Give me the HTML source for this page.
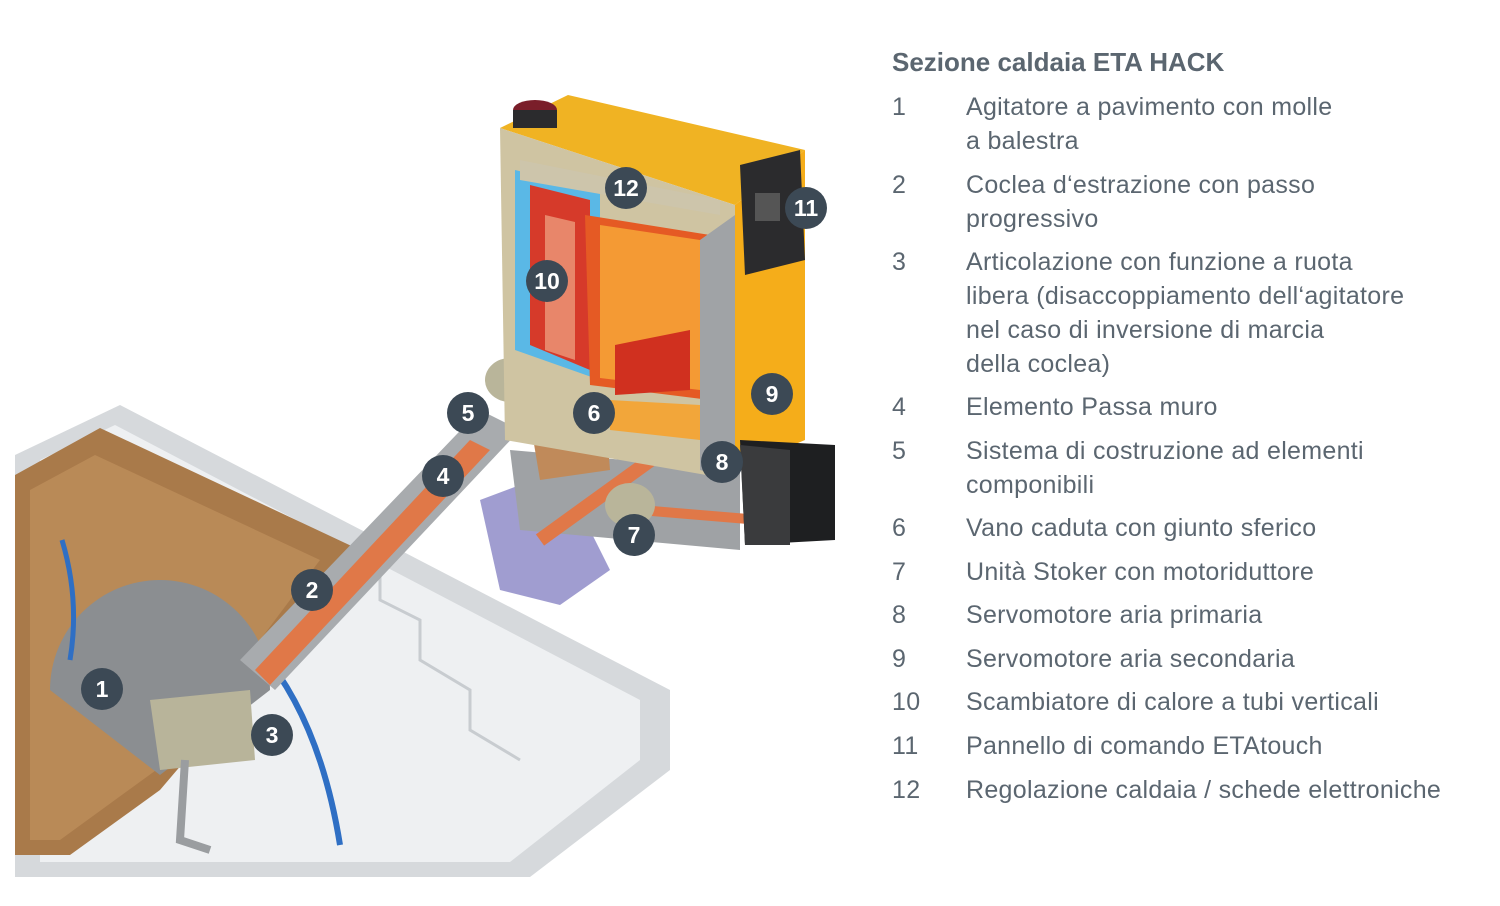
<!DOCTYPE html>
<html><head><meta charset="utf-8"><style>
html,body{margin:0;padding:0;background:#fff;}
body{width:1500px;height:906px;position:relative;overflow:hidden;font-family:"Liberation Sans",sans-serif;}
.t{position:absolute;left:892px;top:47px;font-size:26px;font-weight:bold;color:#5b6670;}
.r{position:absolute;font-size:25px;letter-spacing:0.3px;color:#5b6670;line-height:34px;}
.n{left:892px;}.x{left:966px;}
</style></head><body>
<svg width="1500" height="906" style="position:absolute;left:0;top:0">
<polygon points="15,455 120,405 670,690 670,770 530,877 15,877" fill="#d6d9dc"/>
<polygon points="40,460 115,425 640,700 640,760 510,862 40,862" fill="#eef0f2"/>
<polygon points="15,475 100,428 360,550 330,590 160,790 70,855 15,855" fill="#a97a4a"/>
<polygon points="30,490 95,455 320,560 170,760 60,840 30,840" fill="#c49560" opacity="0.6"/>
<polyline points="360,550 380,560 380,600 420,620 420,660 470,690 470,730 520,760" fill="none" stroke="#c8ccd0" stroke-width="3"/>
<path d="M50,690 A110,110 0 0 1 270,690 L160,775 Z" fill="#8b8e91"/>
<path d="M62,540 Q80,600 70,660" stroke="#2f6fc4" stroke-width="5" fill="none"/>
<path d="M260,650 Q320,720 340,845" stroke="#2f6fc4" stroke-width="6" fill="none"/>
<polygon points="240,660 480,410 520,430 275,690" fill="#a8abae"/>
<polygon points="255,670 470,440 490,450 270,685" fill="#e07848"/>
<polygon points="150,700 250,690 255,760 160,770" fill="#b8b49a"/>
<path d="M185,760 L180,840 L210,850" stroke="#9a9da0" stroke-width="8" fill="none"/>
<polygon points="480,500 560,470 610,570 560,605 500,590" fill="#8f8cc8" opacity="0.85"/>
<polygon points="510,450 740,470 740,550 520,530" fill="#9fa2a5"/>
<polyline points="540,540 720,410" stroke="#e07848" stroke-width="14"/>
<polyline points="640,510 760,520" stroke="#e07848" stroke-width="10"/>
<ellipse cx="630" cy="505" rx="25" ry="22" fill="#b9b59a"/>
<ellipse cx="510" cy="380" rx="25" ry="22" fill="#b9b59a"/>
<polygon points="520,360 600,345 610,470 540,480" fill="#c08a5a"/>
<polygon points="500,128 568,95 805,150 735,205" fill="#f0b323"/>
<polygon points="735,205 805,150 805,440 735,470" fill="#f5ad1a"/>
<polygon points="500,128 735,205 735,480 505,440" fill="#cfc4a2"/>
<polygon points="515,170 600,190 600,380 515,350" fill="#5ab8e6"/>
<polygon points="530,185 590,200 590,370 530,345" fill="#d63a2a"/>
<polygon points="545,215 575,222 575,360 545,350" fill="#e8866a"/>
<polygon points="585,215 710,235 710,400 590,385" fill="#e55a24"/>
<polygon points="600,225 700,240 700,390 600,378" fill="#f49a34"/>
<polygon points="615,345 690,330 690,390 615,395" fill="#d0301f"/>
<polygon points="610,400 700,405 700,440 610,430" fill="#f2a63a"/>
<polygon points="700,240 735,215 735,480 700,470" fill="#a0a3a6"/>
<polygon points="520,160 720,200 720,215 520,180" fill="#cdc5ab"/>
<polygon points="740,165 800,150 805,260 745,275" fill="#2b2b2d"/>
<rect x="755" y="193" width="25" height="28" fill="#555"/>
<polygon points="740,440 835,445 835,540 745,545" fill="#1e1f21"/>
<polygon points="740,445 745,545 790,545 790,450" fill="#3a3b3d"/>
<ellipse cx="535" cy="110" rx="22" ry="10" fill="#7a1e2a"/>
<rect x="513" y="110" width="44" height="18" fill="#2b2b2d"/>
<g fill="#3c4955">
<circle cx="102" cy="689" r="21"/><circle cx="312" cy="590" r="21"/><circle cx="272" cy="735" r="21"/>
<circle cx="443" cy="476" r="21"/><circle cx="468" cy="413" r="21"/><circle cx="594" cy="413" r="21"/>
<circle cx="634" cy="535" r="21"/><circle cx="722" cy="462" r="21"/><circle cx="772" cy="394" r="21"/>
<circle cx="547" cy="281" r="21"/><circle cx="806" cy="208" r="21"/><circle cx="626" cy="188" r="21"/>
</g>
<g fill="#fff" font-family="Liberation Sans" font-weight="bold" font-size="23" text-anchor="middle">
<text x="102" y="697">1</text><text x="312" y="598">2</text><text x="272" y="743">3</text>
<text x="443" y="484">4</text><text x="468" y="421">5</text><text x="594" y="421">6</text>
<text x="634" y="543">7</text><text x="722" y="470">8</text><text x="772" y="402">9</text>
<text x="547" y="289">10</text><text x="806" y="216">11</text><text x="626" y="196">12</text>
</g>
</svg>
<div class="t">Sezione caldaia ETA HACK</div>
<div class="r n" style="top:90px">1</div><div class="r x" style="top:90px">Agitatore a pavimento con molle<br>a balestra</div>
<div class="r n" style="top:168px">2</div><div class="r x" style="top:168px">Coclea d‘estrazione con passo<br>progressivo</div>
<div class="r n" style="top:245px">3</div><div class="r x" style="top:245px">Articolazione con funzione a ruota<br>libera (disaccoppiamento dell‘agitatore<br>nel caso di inversione di marcia<br>della coclea)</div>
<div class="r n" style="top:390px">4</div><div class="r x" style="top:390px">Elemento Passa muro</div>
<div class="r n" style="top:434px">5</div><div class="r x" style="top:434px">Sistema di costruzione ad elementi<br>componibili</div>
<div class="r n" style="top:511px">6</div><div class="r x" style="top:511px">Vano caduta con giunto sferico</div>
<div class="r n" style="top:555px">7</div><div class="r x" style="top:555px">Unità Stoker con motoriduttore</div>
<div class="r n" style="top:598px">8</div><div class="r x" style="top:598px">Servomotore aria primaria</div>
<div class="r n" style="top:642px">9</div><div class="r x" style="top:642px">Servomotore aria secondaria</div>
<div class="r n" style="top:685px">10</div><div class="r x" style="top:685px">Scambiatore di calore a tubi verticali</div>
<div class="r n" style="top:729px">11</div><div class="r x" style="top:729px">Pannello di comando ETAtouch</div>
<div class="r n" style="top:773px">12</div><div class="r x" style="top:773px">Regolazione caldaia / schede elettroniche</div>
</body></html>
